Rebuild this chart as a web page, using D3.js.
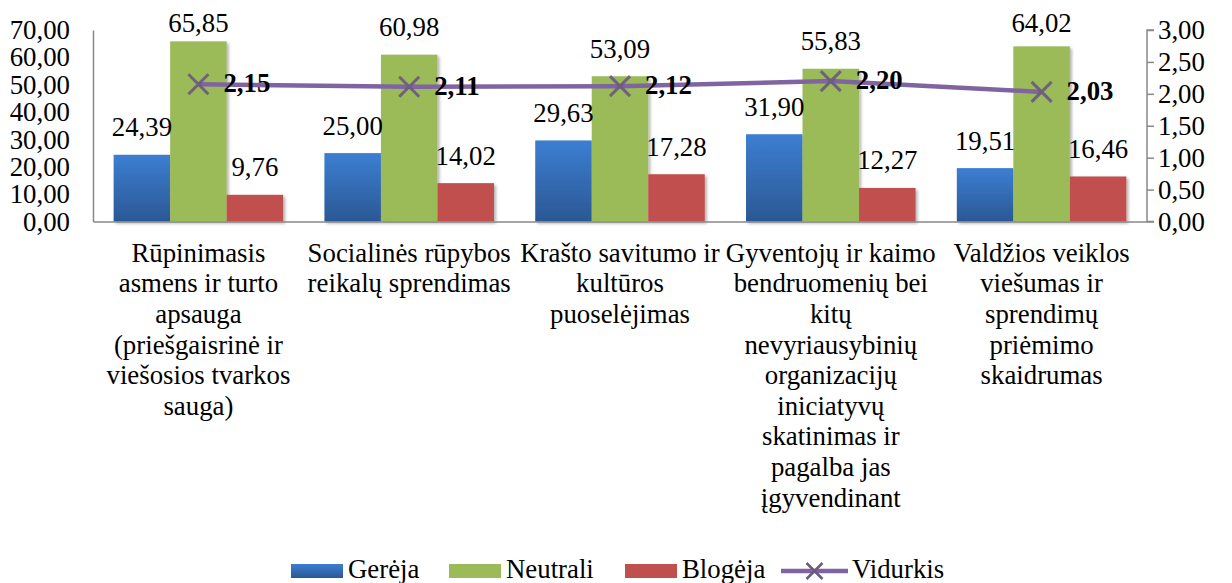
<!DOCTYPE html>
<html>
<head>
<meta charset="utf-8">
<script src="https://cdn.jsdelivr.net/npm/d3@7"></script>
<style>
  body { margin: 0; background: #fff; }
  svg { display: block; }
</style>
</head>
<body>
<div id="chart"></div>
<script>
// data
var categories = ["c1", "c2", "c3", "c4", "c5"];
var categoryLines = [
    ["Rūpinimasis", "asmens ir turto", "apsauga", "(priešgaisrinė ir", "viešosios tvarkos", "sauga)"],
    ["Socialinės rūpybos", "reikalų sprendimas"],
    ["Krašto savitumo ir", "kultūros", "puoselėjimas"],
    ["Gyventojų ir kaimo", "bendruomenių bei", "kitų", "nevyriausybinių", "organizacijų", "iniciatyvų", "skatinimas ir", "pagalba jas", "įgyvendinant"],
    ["Valdžios veiklos", "viešumas ir", "sprendimų", "priėmimo", "skaidrumas"]
];
var seriesNames = ["Gerėja", "Neutrali", "Blogėja"];
var gereja = [24.39, 25.00, 29.63, 31.90, 19.51];
var neutrali = [65.85, 60.98, 53.09, 55.83, 64.02];
var blogeja = [9.76, 14.02, 17.28, 12.27, 16.46];
var vidurkis = [2.15, 2.11, 2.12, 2.20, 2.03];
var lineName = "Vidurkis";
var leftTicks = [0, 10, 20, 30, 40, 50, 60, 70];
var rightTicks = [0, 0.5, 1, 1.5, 2, 2.5, 3];

var seriesValues = [gereja, neutrali, blogeja];
var seriesFill = ["url(#blueGrad)", "#9BBB59", "#C0504D"];

//svg dimensions
var svgWidth = 1232;
var svgHeight = 583;
//plot area
var plot = { left: 93, right: 1147, top: 30, bottom: 221.5 };
var fontSize = 26.8;
var fontFamily = "Liberation Serif";
var axisColor = "#898989";

var svg = d3.select("#chart").append("svg")
    .attr("width", svgWidth)
    .attr("height", svgHeight)
    .attr("font-family", fontFamily)
    .attr("font-size", fontSize);

var defs = svg.append("defs");
var grad = defs.append("linearGradient")
    .attr("id", "blueGrad")
    .attr("x1", 0).attr("y1", 0).attr("x2", 0).attr("y2", 1);
grad.append("stop").attr("offset", "0%").attr("stop-color", "#3C7ED2");
grad.append("stop").attr("offset", "100%").attr("stop-color", "#2B5894");
var shadow = defs.append("filter")
    .attr("id", "shadow")
    .attr("x", "-20%").attr("y", "-20%").attr("width", "150%").attr("height", "150%");
shadow.append("feDropShadow")
    .attr("dx", 2).attr("dy", 2).attr("stdDeviation", 1.8)
    .attr("flood-color", "#000").attr("flood-opacity", 0.3);

//format numbers with comma decimal
var fmt = function (v) { return d3.format(".2f")(v).replace(".", ","); };

//style an axis group
function styleAxis(g) {
    g.attr("font-family", fontFamily).attr("font-size", fontSize);
    g.selectAll(".domain").attr("stroke", axisColor).attr("stroke-width", 1.5);
    g.selectAll(".tick line").attr("stroke", axisColor).attr("stroke-width", 1.5);
    g.selectAll(".tick text").attr("fill", "#000");
}

//scales
var x = d3.scaleBand()
    .domain(categories)
    .range([plot.left, plot.right])
    .padding(0);
var xSub = d3.scaleBand()
    .domain(seriesNames)
    .range([0, x.bandwidth()])
    .paddingInner(0)
    .paddingOuter(0.365);
var yLeft = d3.scaleLinear().domain([0, 70]).range([plot.bottom, plot.top]);
var yRight = d3.scaleLinear().domain([0, 3]).range([plot.bottom, plot.top]);

//bars
seriesNames.forEach(function (name, si) {
    var g = svg.append("g").attr("filter", "url(#shadow)");
    g.selectAll("rect")
        .data(seriesValues[si])
        .enter()
        .append("rect")
        .attr("x", (d, i) => x(categories[i]) + xSub(name))
        .attr("y", d => yLeft(d))
        .attr("width", xSub.bandwidth())
        .attr("height", d => plot.bottom - yLeft(d))
        .attr("fill", seriesFill[si]);
});

//left axis
var leftAxis = d3.axisLeft(yLeft)
    .tickValues(leftTicks)
    .tickSize(0)
    .tickPadding(23)
    .tickFormat(fmt);
svg.append("g")
    .attr("transform", `translate(${plot.left}, 0)`)
    .call(leftAxis)
    .call(styleAxis);

//right axis
var rightAxis = d3.axisRight(yRight)
    .tickValues(rightTicks)
    .tickSize(7)
    .tickPadding(4)
    .tickFormat(fmt);
svg.append("g")
    .attr("transform", `translate(${plot.right}, 0)`)
    .call(rightAxis)
    .call(styleAxis)
    .call(g => g.select(".domain").attr("d", `M7,${plot.top}H0V${plot.bottom}H7`));

//bottom axis with wrapped labels
var bottomAxis = d3.axisBottom(x).tickSize(0).tickFormat("");
var xAxis = svg.append("g")
    .attr("transform", `translate(0, ${plot.bottom})`)
    .call(bottomAxis)
    .call(styleAxis);
xAxis.selectAll(".tick text").remove();
xAxis.selectAll(".tick")
    .append("text")
    .attr("text-anchor", "middle")
    .attr("fill", "#000")
    .each(function (d, i) {
        var t = d3.select(this);
        categoryLines[i].forEach(function (line, li) {
            t.append("tspan")
                .attr("x", 0)
                .attr("y", 40.2 + li * 30.6)
                .text(line);
        });
    });

//bar data labels
seriesNames.forEach(function (name, si) {
    svg.append("g").selectAll("text")
        .data(seriesValues[si])
        .enter()
        .append("text")
        .attr("x", (d, i) => x(categories[i]) + xSub(name) + xSub.bandwidth() / 2)
        .attr("y", d => Math.max(yLeft(d) - 18.5, 32))
        .attr("text-anchor", "middle")
        .text(d => fmt(d));
});

//line series
var cx = (d, i) => x(categories[i]) + x.bandwidth() / 2;
var line = d3.line()
    .x(cx)
    .y(d => yRight(d));
svg.append("path")
    .datum(vidurkis)
    .attr("fill", "none")
    .attr("stroke", "#8064A2")
    .attr("stroke-width", 4.5)
    .attr("stroke-linejoin", "round")
    .attr("d", line);

var xMark = function (px, py, s) {
    return `M${px - s},${py - s}L${px + s},${py + s}M${px - s},${py + s}L${px + s},${py - s}`;
};
svg.append("g").selectAll("path")
    .data(vidurkis)
    .enter()
    .append("path")
    .attr("d", (d, i) => xMark(cx(d, i), yRight(d), 10))
    .attr("stroke", "#6A5A80")
    .attr("stroke-width", 3)
    .attr("opacity", 0.9)
    .attr("fill", "none");

svg.append("g").selectAll("text")
    .data(vidurkis)
    .enter()
    .append("text")
    .attr("x", (d, i) => cx(d, i) + 25)
    .attr("y", d => yRight(d) + 8)
    .attr("font-weight", "bold")
    .text(d => fmt(d));

//legend
var legendX = [291, 449, 625];
var legendY = 564;
seriesNames.forEach(function (name, si) {
    var g = svg.append("g").attr("transform", `translate(${legendX[si]}, ${legendY})`);
    g.append("rect")
        .attr("width", 52)
        .attr("height", 14)
        .attr("fill", seriesFill[si]);
    g.append("text")
        .attr("x", 57)
        .attr("y", 14)
        .text(name);
});
var lg = svg.append("g").attr("transform", `translate(781, ${legendY + 7})`);
lg.append("line")
    .attr("x1", 0).attr("x2", 67)
    .attr("stroke", "#8064A2")
    .attr("stroke-width", 4.5);
lg.append("path")
    .attr("d", xMark(33.5, 0, 8))
    .attr("stroke", "#6A5A80")
    .attr("stroke-width", 2.5)
    .attr("fill", "none");
lg.append("text")
    .attr("x", 71)
    .attr("y", 7)
    .text(lineName);
</script>
</body>
</html>
